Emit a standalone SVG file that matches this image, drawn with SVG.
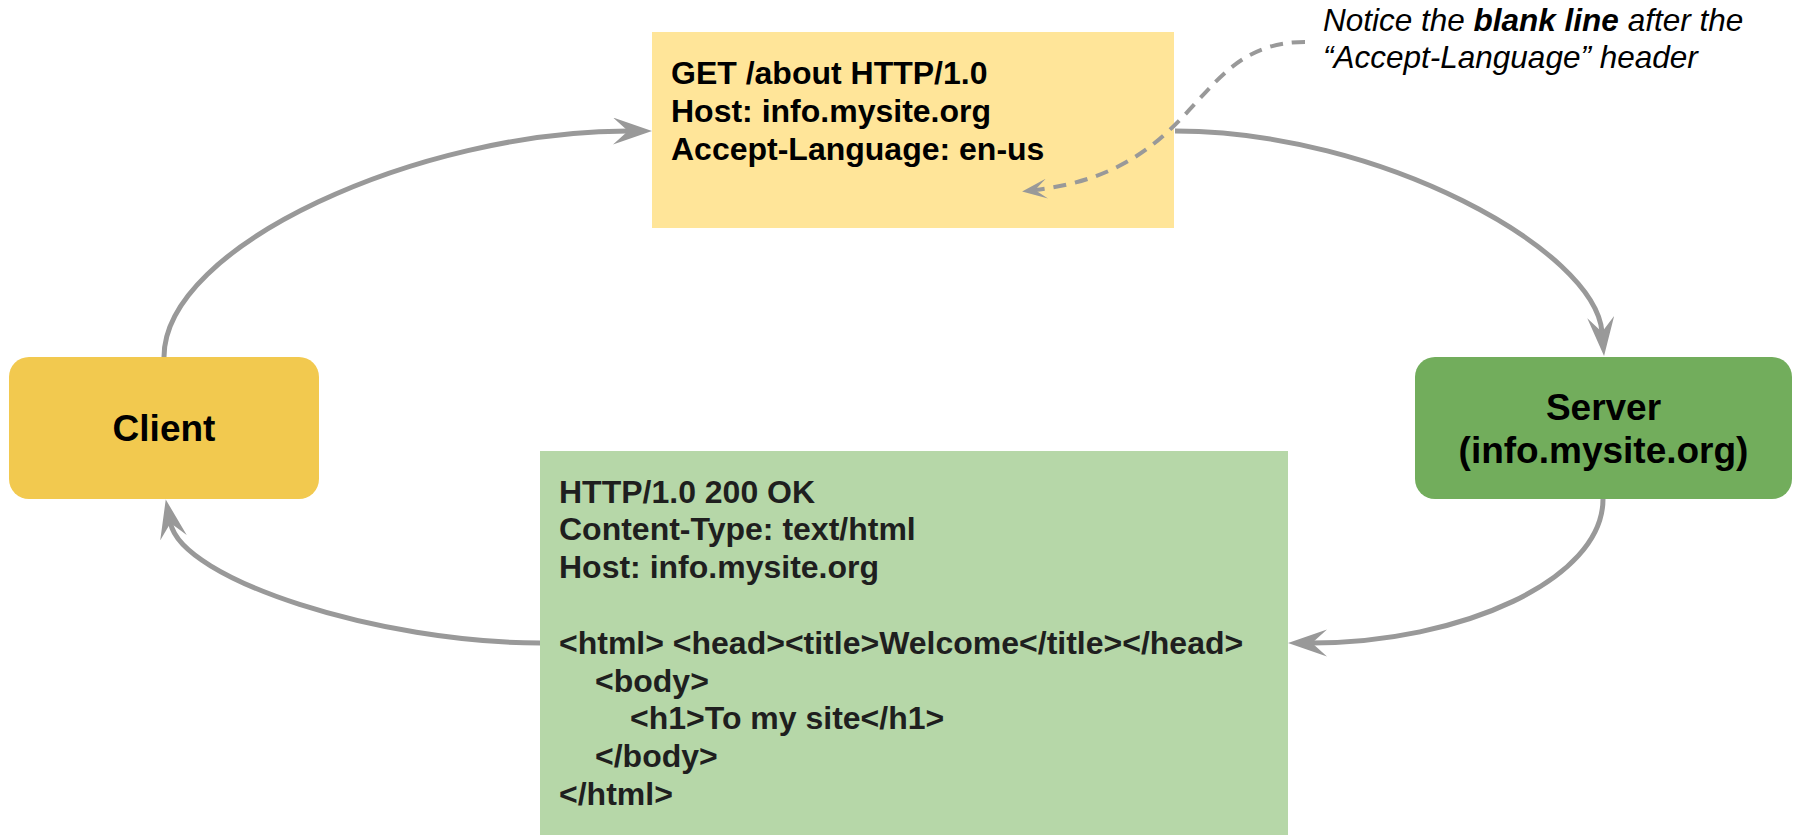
<svg xmlns="http://www.w3.org/2000/svg" width="1800" height="835" viewBox="0 0 1800 835">
<defs>
<style>
.t{font-family:"Liberation Sans",Arial,sans-serif;font-weight:bold;font-size:32px;fill:#000}
.r{fill:#1f1f1f}
.big{font-size:37px;text-anchor:middle}
.note{font-family:"Liberation Sans",Arial,sans-serif;font-style:italic;font-size:31.5px;fill:#000}
.conn{fill:none;stroke:#999999;stroke-width:5}
.dash{fill:none;stroke:#999999;stroke-width:4;stroke-dasharray:13 9}
</style>
<marker id="ah" markerUnits="userSpaceOnUse" markerWidth="40" markerHeight="28" viewBox="0 0 40 28" refX="15" refY="13.5" orient="auto">
<path d="M0,0 L39,13.5 L0,27 L15,13.5 Z" fill="#999999"/>
</marker>
<marker id="ahs" markerUnits="userSpaceOnUse" markerWidth="26" markerHeight="20" viewBox="0 0 26 20" refX="12" refY="10" orient="auto">
<path d="M0,0 L25,10 L0,20 L12,10 Z" fill="#999999"/>
</marker>
</defs>
<rect width="1800" height="835" fill="#ffffff"/>
<g id="request">
<rect x="652" y="32" width="522" height="196" fill="#ffe599"/>
<text class="t" x="671" y="84">GET /about HTTP/1.0</text>
<text class="t" x="671" y="122">Host: info.mysite.org</text>
<text class="t" x="671" y="160">Accept-Language: en-us</text>
</g>
<g id="client">
<rect x="9" y="357" width="310" height="142" rx="20" fill="#f2c94f"/>
<text class="t big" x="164" y="441">Client</text>
</g>
<g id="server">
<rect x="1415" y="357" width="377" height="142" rx="20" fill="#72ad5c"/>
<text class="t big" x="1603.5" y="419.5">Server</text>
<text class="t big" x="1603.5" y="462.5">(info.mysite.org)</text>
</g>
<g id="response">
<rect x="540" y="451" width="748" height="390" fill="#b6d7a8"/>
<text class="t r" x="559" y="502.5">HTTP/1.0 200 OK</text>
<text class="t r" x="559" y="540.3">Content-Type: text/html</text>
<text class="t r" x="559" y="578.1">Host: info.mysite.org</text>
<text class="t r" x="559" y="653.7">&lt;html&gt; &lt;head&gt;&lt;title&gt;Welcome&lt;/title&gt;&lt;/head&gt;</text>
<text class="t r" x="595" y="691.5">&lt;body&gt;</text>
<text class="t r" x="630" y="729.3">&lt;h1&gt;To my site&lt;/h1&gt;</text>
<text class="t r" x="595" y="767.1">&lt;/body&gt;</text>
<text class="t r" x="559" y="804.9">&lt;/html&gt;</text>
</g>
<g id="note">
<text class="note" x="1323" y="31">Notice the <tspan font-weight="bold">blank line</tspan> after the</text>
<text class="note" x="1323" y="68">“Accept-Language” header</text>
</g>
<g id="connectors">
<path class="conn" d="M164,357 C164,245 420,131 628,131" marker-end="url(#ah)"/>
<path class="conn" d="M1175,131 C1380,131 1595,250 1602,332" marker-end="url(#ah)"/>
<path class="conn" d="M1603,499 C1603,580 1460,643 1312,643" marker-end="url(#ah)"/>
<path class="conn" d="M540,643 C380,643 182,580 170.5,523" marker-end="url(#ah)"/>
<path class="dash" d="M1305,42 C1190,42 1205,170 1035,190" marker-end="url(#ahs)"/>
</g>
</svg>
